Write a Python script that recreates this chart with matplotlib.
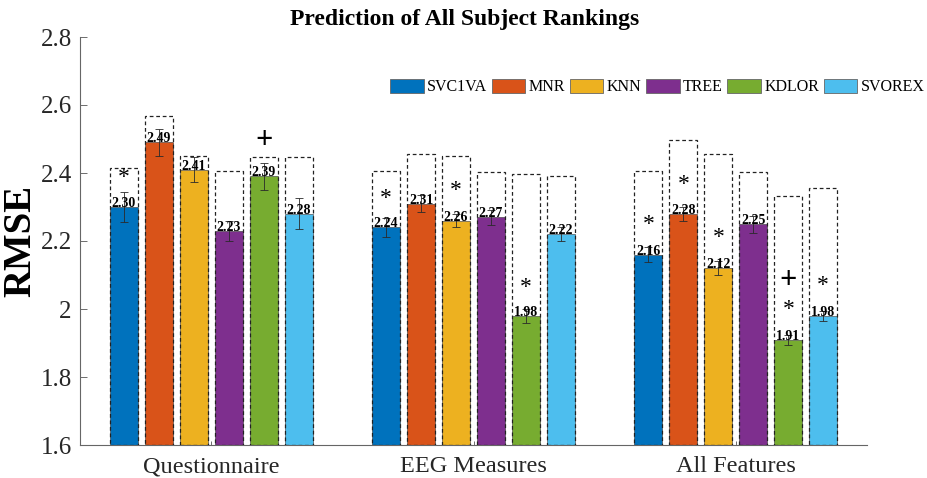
import numpy as np
import matplotlib
matplotlib.use("Agg")
import matplotlib.pyplot as plt
from matplotlib.patches import Rectangle

plt.rcParams['font.family'] = ['Liberation Serif', 'DejaVu Serif']

categories = ["Questionnaire", "EEG Measures", "All Features"]
models = ["SVC1VA", "MNR", "KNN", "TREE", "KDLOR", "SVOREX"]
colors = ["#0072BD", "#D95319", "#EDB120", "#7E2F8E", "#77AC30", "#4DBEEE"]

# mean RMSE per feature set (rows) and model (columns)
rmse = np.array([
    [2.30, 2.49, 2.41, 2.23, 2.39, 2.28],
    [2.24, 2.31, 2.26, 2.27, 1.98, 2.22],
    [2.16, 2.28, 2.12, 2.25, 1.91, 1.98],
])
rmse_err = np.array([
    [0.045, 0.040, 0.037, 0.030, 0.040, 0.046],
    [0.028, 0.025, 0.020, 0.022, 0.020, 0.020],
    [0.023, 0.020, 0.020, 0.025, 0.015, 0.015],
])
# reference (dashed) RMSE levels
baseline_rmse = np.array([
    [2.414, 2.568, 2.450, 2.407, 2.448, 2.448],
    [2.407, 2.456, 2.451, 2.404, 2.397, 2.392],
    [2.407, 2.497, 2.455, 2.404, 2.333, 2.355],
])
# significance markers: (feature set, model, symbol, y level)
markers = [
    (0, 0, "*", 2.409), (0, 4, "+", 2.497),
    (1, 0, "*", 2.348), (1, 2, "*", 2.370), (1, 4, "*", 2.087),
    (2, 0, "*", 2.271), (2, 1, "*", 2.389), (2, 2, "*", 2.232),
    (2, 4, "+", 2.085), (2, 4, "*", 2.021), (2, 5, "*", 2.093),
]
ymin, ymax = 1.6, 2.8

fig = plt.figure(figsize=(9.27, 4.78), dpi=100)
ax = fig.add_axes([80 / 927, 1 - 445 / 478, 787 / 927, 408 / 478])

n = len(models)
pitch = 0.8 / n
width = pitch * 0.8
x = np.arange(1, len(categories) + 1)

for j in range(n):
    xs = x + (j - (n - 1) / 2) * pitch
    ax.bar(xs, rmse[:, j] - ymin, width, bottom=ymin, color=colors[j],
           edgecolor="#333333", linewidth=0.4, zorder=2, label=models[j])
    for i in range(len(categories)):
        ax.add_patch(Rectangle((xs[i] - width / 2, ymin), width,
                               baseline_rmse[i, j] - ymin, facecolor="none",
                               edgecolor="#222222", linewidth=0.9,
                               linestyle=(0, (3, 2.2)), zorder=3))
        ax.text(xs[i], rmse[i, j], f"{rmse[i, j]:.2f}", ha="center",
                va="baseline", fontsize=10, fontweight="bold", zorder=5)
    ax.errorbar(xs, rmse[:, j], yerr=rmse_err[:, j], fmt="none",
                ecolor="#2a2a2a", elinewidth=0.6, capsize=3.2, capthick=0.6,
                zorder=4)

for gi, mj, sym, yv in markers:
    xm = x[gi] + (mj - (n - 1) / 2) * pitch
    off = -9.5 if sym == "*" else -6
    ax.annotate(sym, (xm, yv), xytext=(0, off), textcoords="offset points",
                ha="center", va="baseline", fontsize=17 if sym == "*" else 22,
                fontweight="bold" if sym == "+" else "normal", zorder=6)

ax.set_xlim(0.5, 3.5)
ax.set_ylim(ymin, ymax)
ax.set_xticks(x)
ax.set_xticklabels(categories, fontsize=17.5, color="#262626")
ax.set_yticks([1.6, 1.8, 2.0, 2.2, 2.4, 2.6, 2.8])
ax.set_yticklabels(["1.6", "1.8", "2", "2.2", "2.4", "2.6", "2.8"],
                   fontsize=18, color="#262626")
ax.tick_params(axis="y", direction="in", length=5, width=0.6, color="#555555", pad=6)
ax.tick_params(axis="x", direction="in", length=3, width=0.6, color="#555555", pad=8)
for s in ["top", "right"]:
    ax.spines[s].set_visible(False)
for s in ["left", "bottom"]:
    ax.spines[s].set_color("#666666")
    ax.spines[s].set_linewidth(0.8)

ax.set_ylabel("RMSE", fontsize=28, fontweight="bold", va="center")
ax.yaxis.set_label_coords(-59 / 787, 0.5)
fig.text(465 / 927, 1 - 19 / 478, "Prediction of All Subject Rankings",
         ha="center", va="center", fontsize=17, fontweight="bold")

leg = fig.legend(loc="center left", bbox_to_anchor=(390 / 927, 1 - 87 / 478),
                 ncol=n, frameon=False, fontsize=11.5, handlelength=2.1,
                 handleheight=1.05, handletextpad=0.2, columnspacing=0.3,
                 borderpad=0, borderaxespad=0)
for h in leg.legend_handles:
    h.set_edgecolor("#666666")
    h.set_linewidth(0.6)

fig.savefig("out.png", dpi=100)
